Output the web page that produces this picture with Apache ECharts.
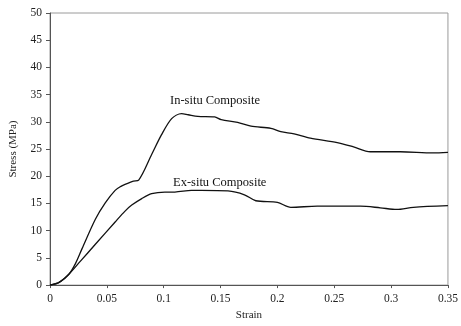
<!DOCTYPE html>
<html>
<head>
<meta charset="UTF-8">
<title>Stress-strain</title>
<script type="text/javascript" src="https://cdn.jsdelivr.net/npm/echarts@6/dist/echarts.min.js"></script>
<style>
  html, body { margin: 0; padding: 0; background: #fff; }
</style>
</head>
<body>
<div id="main" style="width: 461px;height:326px;"></div>
<script type="text/javascript">
  // in-situ composite curve (strain, stress MPa)
  var insituStrain = [0, 0.008, 0.0166, 0.0225, 0.0282, 0.0399, 0.0486, 0.0573, 0.062, 0.066, 0.0734, 0.078,
    0.0894, 0.098, 0.107, 0.1157, 0.1215, 0.130, 0.1448, 0.1506, 0.165, 0.1768, 0.1943, 0.203, 0.2147,
    0.229, 0.2526, 0.267, 0.2817, 0.308, 0.3368, 0.35];
  var insituStress = [0, 0.5, 2.0, 4.0, 6.7, 12.1, 15.1, 17.4, 18.1, 18.5, 19.1, 19.3,
    24.0, 27.6, 30.6, 31.5, 31.3, 31.0, 30.9, 30.4, 29.9, 29.2, 28.8, 28.2, 27.8,
    27.0, 26.2, 25.4, 24.5, 24.5, 24.3, 24.4];

  // ex-situ composite curve
  var exsituStrain = [0, 0.008, 0.0166, 0.0268, 0.0399, 0.0573, 0.066, 0.0719, 0.0807, 0.0894, 0.101, 0.1098,
    0.1244, 0.1331, 0.1565, 0.171, 0.181, 0.2, 0.2118, 0.235, 0.273, 0.2905, 0.305, 0.3196, 0.35];
  var exsituStress = [0, 0.5, 2.0, 4.4, 7.5, 11.6, 13.6, 14.7, 15.9, 16.8, 17.1, 17.1,
    17.4, 17.4, 17.3, 16.6, 15.5, 15.2, 14.3, 14.5, 14.5, 14.2, 13.9, 14.3, 14.6];

  var seriesNames = ['In-situ Composite', 'Ex-situ Composite'];

  function pairs(xs, ys) {
    var out = [];
    for (var i = 0; i < xs.length; i++) out.push([xs[i], ys[i]]);
    return out;
  }

  var font = 'Liberation Serif';
  var myChart = echarts.init(document.getElementById('main'), null, { renderer: 'canvas' });

  var option = {
    animation: false,
    grid: { left: 48, right: 11, top: 13, bottom: 31, show: true, borderColor: '#9a9a9a', borderWidth: 1 },
    xAxis: {
      type: 'value', min: 0, max: 0.35, interval: 0.05,
      name: 'Strain', nameLocation: 'middle', nameGap: 21,
      nameTextStyle: { fontFamily: font, fontSize: 11, color: '#222' },
      axisLine: { lineStyle: { color: '#555', width: 1 } },
      axisTick: { show: true, length: 3, lineStyle: { color: '#555' } },
      axisLabel: { fontFamily: font, fontSize: 11.5, color: '#222', margin: 8 },
      splitLine: { show: false }
    },
    yAxis: {
      type: 'value', min: 0, max: 50, interval: 5,
      name: 'Stress (MPa)', nameLocation: 'middle', nameGap: 31,
      nameTextStyle: { fontFamily: font, fontSize: 11, color: '#222' },
      axisLine: { show: true, lineStyle: { color: '#555', width: 1 } },
      axisTick: { show: true, length: 4, lineStyle: { color: '#555' } },
      axisLabel: { fontFamily: font, fontSize: 11.5, color: '#222', margin: 8 },
      splitLine: { show: false }
    },
    series: [{
      name: seriesNames[0], type: 'line', showSymbol: false, smooth: 0.3,
      lineStyle: { color: '#111', width: 1.3 },
      data: pairs(insituStrain, insituStress)
    }, {
      name: seriesNames[1], type: 'line', showSymbol: false, smooth: 0.3,
      lineStyle: { color: '#111', width: 1.3 },
      data: pairs(exsituStrain, exsituStress)
    }],
    graphic: [{
      type: 'text', left: 170, top: 94,
      style: { text: seriesNames[0], font: '12.5px ' + font, fill: '#111' }
    }, {
      type: 'text', left: 173, top: 176,
      style: { text: seriesNames[1], font: '12.5px ' + font, fill: '#111' }
    }]
  };

  myChart.setOption(option);
</script>
</body>
</html>
